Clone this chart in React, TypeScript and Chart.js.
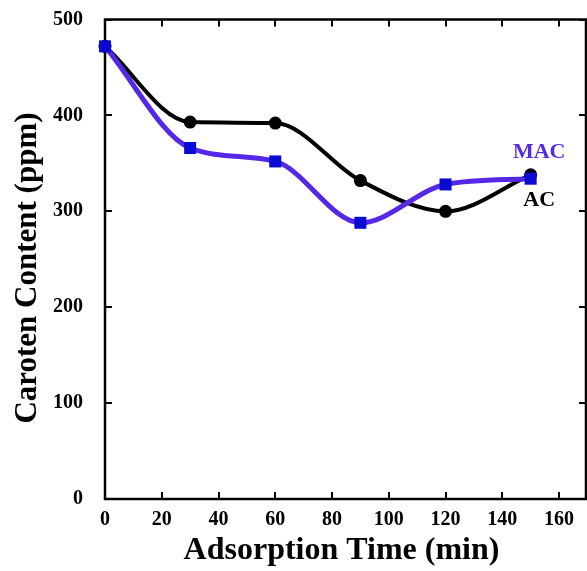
import React, { useEffect, useRef } from "react";
import { Chart, registerables } from "chart.js";

Chart.register(...registerables);

// ---- data ----
const timeMin = [0, 30, 60, 90, 120, 150];
const acValues = [472, 393, 392, 332, 300, 338];
const macValues = [472, 366, 352, 288, 328, 334];
const seriesNames = ["MAC", "AC"];
const xAxisTitle = "Adsorption Time (min)";
const yAxisTitle = "Caroten Content (ppm)";

const FONT = "'Liberation Serif', 'Times New Roman', serif";
const MAC_LINE = "#5528e6";
const MAC_POINT = "#0a0ad2";

const framePlugin = {
  id: "frameTicks",
  beforeDatasetsDraw(chart: any) {
    const { ctx, chartArea } = chart;
    const xs = chart.scales.x;
    const ys = chart.scales.y;
    const { left, right, top, bottom } = chartArea;
    ctx.save();
    ctx.strokeStyle = "#000";
    ctx.lineWidth = 2.5;
    ctx.strokeRect(left, top, right - left, bottom - top);
    ctx.lineWidth = 2;
    const len = 7;
    ctx.beginPath();
    xs.ticks.forEach((t: any) => {
      const px = Math.round(xs.getPixelForValue(t.value));
      ctx.moveTo(px, bottom);
      ctx.lineTo(px, bottom - len);
      ctx.moveTo(px, top);
      ctx.lineTo(px, top + len);
    });
    ys.ticks.forEach((t: any) => {
      const py = Math.round(ys.getPixelForValue(t.value));
      ctx.moveTo(left, py);
      ctx.lineTo(left + len, py);
      ctx.moveTo(right, py);
      ctx.lineTo(right - len, py);
    });
    ctx.stroke();
    ctx.restore();
  },
  afterDraw(chart: any) {
    const { ctx, chartArea } = chart;
    const xs = chart.scales.x;
    const ys = chart.scales.y;
    ctx.save();
    ctx.fillStyle = "#000";
    ctx.textAlign = "center";
    ctx.textBaseline = "middle";
    ctx.font = `bold 32px ${FONT}`;
    ctx.fillText(xAxisTitle, (chartArea.left + chartArea.right) / 2 - 4, 551);
    ctx.font = `bold 31px ${FONT}`;
    ctx.save();
    ctx.translate(28, 268);
    ctx.rotate(-Math.PI / 2);
    ctx.fillText(yAxisTitle, 0, 0);
    ctx.restore();
    // series labels
    ctx.font = `bold 22px ${FONT}`;
    ctx.fillStyle = MAC_LINE;
    ctx.fillText(seriesNames[0], xs.getPixelForValue(153), ys.getPixelForValue(362));
    ctx.fillStyle = "#000";
    ctx.fillText(seriesNames[1], xs.getPixelForValue(153), ys.getPixelForValue(311));
    ctx.restore();
  },
};

export default function App() {
  const ref = useRef<HTMLCanvasElement | null>(null);
  useEffect(() => {
    if (!ref.current) return;
    const tickFont = { family: FONT, size: 20, weight: "bold" as const };
    const chart = new Chart(ref.current, {
      type: "line",
      data: {
        datasets: [
          {
            label: seriesNames[0],
            data: timeMin.map((x, i) => ({ x, y: macValues[i] })),
            borderColor: MAC_LINE,
            borderWidth: 5,
            backgroundColor: MAC_POINT,
            pointBackgroundColor: MAC_POINT,
            pointBorderColor: MAC_POINT,
            pointBorderWidth: 0,
            pointStyle: "rect",
            pointRadius: 8.5,
            cubicInterpolationMode: "monotone",
            order: 0,
          },
          {
            label: seriesNames[1],
            data: timeMin.map((x, i) => ({ x, y: acValues[i] })),
            borderColor: "#000",
            borderWidth: 4,
            backgroundColor: "#000",
            pointBackgroundColor: "#000",
            pointBorderColor: "#000",
            pointBorderWidth: 0,
            pointStyle: "circle",
            pointRadius: 6.5,
            cubicInterpolationMode: "monotone",
            order: 1,
          },
        ],
      },
      options: {
        responsive: false,
        animation: false,
        clip: false as any,
        layout: { autoPadding: false, padding: { left: 0, top: 19.5, right: 1, bottom: 0 } },
        plugins: { legend: { display: false }, tooltip: { enabled: false } },
        scales: {
          x: {
            type: "linear",
            min: 0,
            max: 169.5,
            grid: { display: false, drawTicks: false },
            border: { display: false },
            ticks: {
              stepSize: 20,
              includeBounds: false,
              maxRotation: 0,
              color: "#000",
              font: tickFont,
              padding: 9,
            },
            afterFit: (s: any) => {
              s.height = 72;
              s.paddingLeft = 0;
              s.paddingRight = 0;
            },
          },
          y: {
            type: "linear",
            min: 0,
            max: 500,
            grid: { display: false, drawTicks: false },
            border: { display: false },
            ticks: {
              stepSize: 100,
              includeBounds: false,
              color: "#000",
              font: tickFont,
              padding: 22,
            },
            afterFit: (s: any) => {
              s.width = 105;
              s.paddingTop = 0;
              s.paddingBottom = 0;
            },
          },
        },
      },
      plugins: [framePlugin],
    });
    return () => chart.destroy();
  }, []);
  return (
    <div style={{ position: "fixed", left: 0, top: 0, width: 587, height: 571, background: "#fff" }}>
      <canvas ref={ref} width={587} height={571} style={{ display: "block" }} />
    </div>
  );
}
